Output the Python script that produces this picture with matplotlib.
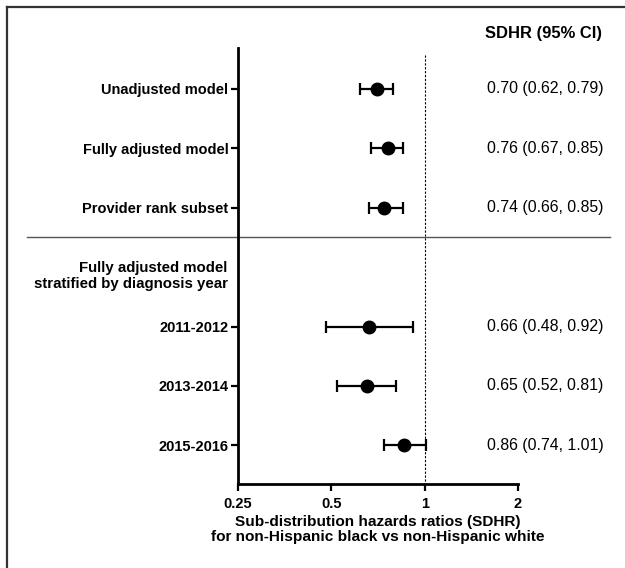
import matplotlib
matplotlib.use("Agg")
import matplotlib.pyplot as plt
import matplotlib.transforms as mtransforms
from matplotlib.lines import Line2D

plt.rcParams['font.family'] = ['Liberation Sans', 'DejaVu Sans']

# data
labels = ["Unadjusted model", "Fully adjusted model", "Provider rank subset",
          "2011-2012", "2013-2014", "2015-2016"]
rows = [0, 1, 2, 4, 5, 6]
sdhr = [0.70, 0.76, 0.74, 0.66, 0.65, 0.86]
ci_low = [0.62, 0.67, 0.66, 0.48, 0.52, 0.74]
ci_high = [0.79, 0.85, 0.85, 0.92, 0.81, 1.01]
xticks = [0.25, 0.5, 1, 2]
xtick_labels = ["0.25", "0.5", "1", "2"]
group_header = "Fully adjusted model\nstratified by diagnosis year"


def main():
    fig = plt.figure(figsize=(6.25, 5.68), dpi=100)
    ax = fig.add_axes([0.3808, 0.1479, 0.448, 0.7676])

    err = [[s - lo for s, lo in zip(sdhr, ci_low)],
           [hi - s for s, hi in zip(sdhr, ci_high)]]
    ax.errorbar(sdhr, rows, xerr=err, fmt='o', color='black', ms=9,
                elinewidth=1.6, capsize=4.3, capthick=1.6, zorder=3)

    ax.set_xscale('log', base=2)
    ax.set_xlim(0.25, 2)
    ax.set_ylim(6.65, -0.69)
    ax.set_xticks(xticks)
    ax.set_xticklabels(xtick_labels, fontsize=10.5, fontweight='bold')
    ax.xaxis.set_minor_locator(matplotlib.ticker.NullLocator())
    ax.set_yticks(rows)
    ax.set_yticklabels(labels, fontsize=10.5, fontweight='bold')
    ax.tick_params(axis='both', width=1.6, length=5)
    ax.tick_params(axis='x', pad=4.5)
    ax.tick_params(axis='y', pad=2)

    for side in ['top', 'right']:
        ax.spines[side].set_visible(False)
    for side in ['left', 'bottom']:
        ax.spines[side].set_linewidth(2)

    # reference line at 1
    ax.vlines(1, -0.57, 6.65, colors='black', linestyles=(0, (2, 1.5)),
              linewidth=0.8, zorder=1)

    ax.set_xlabel("Sub-distribution hazards ratios (SDHR)\n"
                  "for non-Hispanic black vs non-Hispanic white",
                  fontsize=11.1, fontweight='bold', labelpad=3, linespacing=1.1)

    trans = mtransforms.blended_transform_factory(fig.transFigure, ax.transData)

    # separator between main models and stratified ones
    ax.add_line(Line2D([0.043, 0.976], [2.5, 2.5], transform=trans,
                       color='#555555', linewidth=1, clip_on=False))

    ax.text(0.3645, 3.15, group_header, transform=trans, ha='right',
            va='center', fontsize=10.8, fontweight='bold', linespacing=1.12)

    # estimates column
    ax.text(0.776, -0.94, "SDHR (95% CI)", transform=trans, ha='left',
            va='center', fontsize=11.9, fontweight='bold', clip_on=False)
    for r, s, lo, hi in zip(rows, sdhr, ci_low, ci_high):
        ax.text(0.779, r, f"{s:.2f} ({lo:.2f}, {hi:.2f})", transform=trans,
                ha='left', va='center', fontsize=11.4)

    # cropped frame (top and left edges only)
    fig.add_artist(Line2D([0.0104, 0.0104], [0, 0.9868], color='#333333',
                          linewidth=1.6, transform=fig.transFigure))
    fig.add_artist(Line2D([0.0104, 1], [0.9868, 0.9868], color='#333333',
                          linewidth=1.6, transform=fig.transFigure))

    fig.savefig("out.png", dpi=100)


if __name__ == '__main__':
    main()
